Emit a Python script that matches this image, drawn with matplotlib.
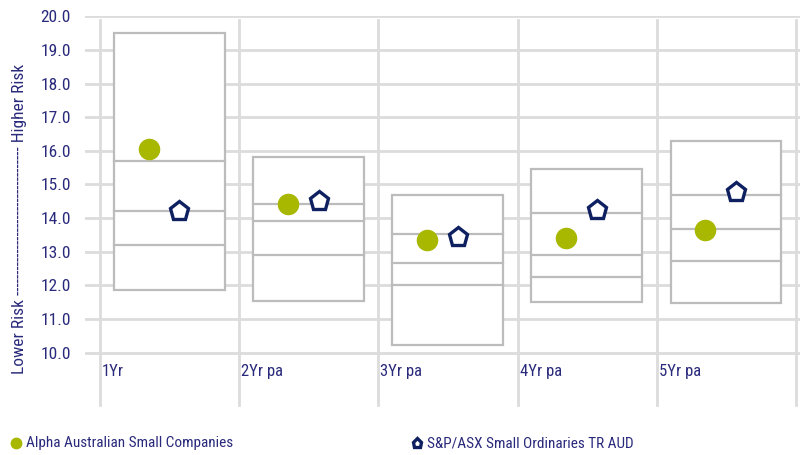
import matplotlib
matplotlib.use("Agg")
import matplotlib.pyplot as plt
from matplotlib.lines import Line2D
from matplotlib.patches import Rectangle

categories = ["1Yr", "2Yr pa", "3Yr pa", "4Yr pa", "5Yr pa"]
# box: 5th pct (bottom), 25th, median, 75th, 95th pct (top)
box_bottom = [11.85, 11.55, 10.23, 11.50, 11.49]
box_q1 = [13.20, 12.91, 12.01, 12.25, 12.72]
box_med = [14.20, 13.92, 12.68, 12.91, 13.69]
box_q3 = [15.70, 14.41, 13.52, 14.16, 14.70]
box_top = [19.50, 15.83, 14.69, 15.46, 16.29]
fund = [16.05, 14.43, 13.35, 13.42, 13.65]
index = [14.20, 14.50, 13.43, 14.24, 14.79]
fund_name = "Alpha Australian Small Companies"
index_name = "S&P/ASX Small Ordinaries TR AUD"

navy = "#2a2a7c"
green = "#a8b800"
dark = "#0f2060"
grid_c = "#dcdcdc"
box_c = "#bcbcbc"
plt.rcParams["font.family"] = ["Roboto Condensed", "DejaVu Sans"]

fig = plt.figure(figsize=(8.04, 4.55), dpi=100)
ax = fig.add_axes([85 / 804, 50 / 455, 715 / 804, 388.7 / 455])
ax.set_xlim(-0.108, 5.03)
ax.set_ylim(8.445, 20.0)

# horizontal gridlines 10..20
for v in range(10, 21):
    ax.axhline(v, color=grid_c, lw=2, zorder=0)
# vertical category separators
for k in range(len(categories) + 1):
    ax.plot([k, k], [8.445, 19.89], color=grid_c, lw=2, zorder=0, clip_on=False)

for i in range(len(categories)):
    x0, x1 = i + 0.1, i + 0.895
    ax.add_patch(Rectangle((x0, box_bottom[i]), x1 - x0, box_top[i] - box_bottom[i],
                           facecolor="white", edgecolor=box_c, lw=1.6, zorder=2))
    for v in (box_q1[i], box_med[i], box_q3[i]):
        ax.plot([x0, x1], [v, v], color=box_c, lw=1.6, zorder=3)
    ax.text(i + 0.015, 9.43, categories[i], color=navy, fontsize=12, va="center", ha="left")

xs = range(len(categories))
ax.plot([i + 0.35 for i in xs], fund, "o", ms=14.5, color=green, mec=green, zorder=5)
ax.plot([i + 0.57 for i in xs], index, "p", ms=14, mfc="white", mec=dark, mew=2.4, zorder=5)

ax.set_yticks(range(10, 21))
ax.set_yticklabels([f"{v:.1f}" for v in range(10, 21)], color=navy, fontsize=12.5)
ax.tick_params(axis="y", length=0, pad=10)
ax.set_xticks([])
for s in ax.spines.values():
    s.set_visible(False)

fig.text(20 / 804, (455 - 219) / 455,
         "Lower Risk ----------------------------------- Higher Risk",
         rotation=90, color=navy, fontsize=12.5, ha="center", va="center")

# legend
fig.add_artist(Line2D([16 / 804], [12 / 455], marker="o", ms=7.5, color=green, transform=fig.transFigure))
fig.text(26 / 804, 12 / 455, fund_name, color=navy, fontsize=11, va="center")
fig.add_artist(Line2D([417 / 804], [12 / 455], marker="p", ms=6.5, mfc="white", mec=dark, mew=2.4,
                      transform=fig.transFigure))
fig.text(427 / 804, 12 / 455, index_name, color=navy, fontsize=11, va="center")

fig.savefig("out.png", dpi=100)
